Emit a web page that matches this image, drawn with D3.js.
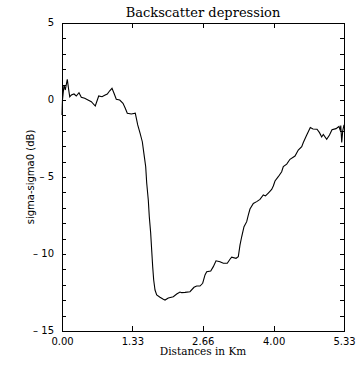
<!DOCTYPE html>
<html>
<head>
<script src="https://d3js.org/d3.v7.min.js"></script>
<style>
  body { margin: 0; background: #fff; }
  text { fill: #000; }
</style>
</head>
<body>
<svg width="362" height="366"></svg>
<script>
// distance along track (km) and backscatter relative to reference (dB)
const distKm = [0.000, 0.009, 0.038, 0.062, 0.100, 0.127, 0.146, 0.176, 0.227, 0.270,
  0.321, 0.365, 0.429, 0.491, 0.554, 0.629, 0.694, 0.756, 0.807, 0.856,
  0.902, 0.945, 0.983, 1.026, 1.091, 1.153, 1.196, 1.234, 1.310, 1.385,
  1.431, 1.474, 1.518, 1.556, 1.582, 1.601, 1.631, 1.650, 1.676, 1.695,
  1.714, 1.733, 1.758, 1.790, 1.852, 1.915, 1.947, 2.009, 2.104, 2.168,
  2.230, 2.262, 2.325, 2.419, 2.495, 2.546, 2.608, 2.659, 2.703, 2.735,
  2.811, 2.860, 2.911, 2.986, 3.049, 3.124, 3.175, 3.207, 3.289, 3.332,
  3.364, 3.396, 3.440, 3.491, 3.521, 3.553, 3.616, 3.680, 3.742, 3.805,
  3.846, 3.899, 3.963, 3.994, 4.026, 4.088, 4.152, 4.183, 4.247, 4.309,
  4.404, 4.466, 4.531, 4.561, 4.621, 4.693, 4.744, 4.820, 4.867, 4.908,
  4.939, 5.003, 5.056, 5.103, 5.179, 5.235, 5.260, 5.269, 5.287, 5.306, 5.330];
const sigmaDb = [-0.97, 0.00, 0.97, 0.65, 1.34, 0.65, 0.21, 0.32, 0.39, 0.26,
  0.47, 0.18, 0.11, 0.00, -0.11, -0.39, 0.26, 0.21, 0.31, 0.39,
  0.60, 0.76, 0.44, 0.05, 0.00, -0.21, -0.54, -0.86, -0.91, -0.86,
  -1.62, -2.14, -2.71, -3.68, -4.33, -5.39, -6.49, -7.58, -8.64, -9.74,
  -10.82, -11.69, -12.34, -12.66, -12.81, -12.94, -12.99, -12.86, -12.77, -12.60,
  -12.47, -12.51, -12.49, -12.45, -12.16, -12.08, -12.08, -11.90, -11.36, -11.15,
  -11.10, -10.82, -10.44, -10.50, -10.60, -10.60, -10.34, -10.21, -10.28, -10.18,
  -9.42, -8.88, -8.23, -7.90, -7.47, -7.08, -6.72, -6.60, -6.45, -6.17,
  -6.23, -6.04, -5.81, -5.58, -5.26, -4.98, -4.66, -4.33, -4.16, -3.85,
  -3.64, -3.25, -3.03, -2.76, -2.31, -1.79, -1.88, -1.90, -2.12, -2.40,
  -2.24, -2.55, -2.27, -1.93, -1.86, -1.72, -1.98, -1.66, -2.76, -2.01, -1.62];

const xTicks = [0, 1.33, 2.66, 4.00, 5.33];
const yMajor = [-15, -10, -5, 0, 5];
const yMinor = [-15, -14, -13, -12, -11, -10, -9, -8, -7, -6, -5, -4, -3, -2, -1, 0, 1, 2, 3, 4, 5];

const svg = d3.select('svg');
const L = 62, R = 344, T = 23, B = 331;

const x = d3.scaleLinear().domain([0, 5.33]).range([L, R]);
const y = d3.scaleLinear().domain([-15, 5]).range([B, T]);

const font = '"DejaVu Sans", sans-serif';

// bottom axis with labels, ticks point inward
const xb = svg.append('g').attr('transform', 'translate(0,' + B + ')')
  .call(d3.axisBottom(x).tickValues(xTicks).tickSizeInner(-5).tickSizeOuter(0)
    .tickPadding(8).tickFormat(d3.format('.2f')));
// top axis, ticks only
svg.append('g').attr('transform', 'translate(0,' + T + ')')
  .call(d3.axisTop(x).tickValues(xTicks).tickSizeInner(-5).tickSizeOuter(0).tickFormat(''));

// left axis: minor ticks every 1 dB, labels every 5
const yl = svg.append('g').attr('transform', 'translate(' + L + ',0)')
  .call(d3.axisLeft(y).tickValues(yMinor).tickSizeInner(-4).tickSizeOuter(0)
    .tickPadding(8).tickFormat(d => yMajor.includes(d) ? (d < 0 ? '\u2013 ' + (-d) : d) : ''));
svg.append('g').attr('transform', 'translate(' + R + ',0)')
  .call(d3.axisRight(y).tickValues(yMinor).tickSizeInner(-4).tickSizeOuter(0).tickFormat(''));

svg.selectAll('.domain').remove();
svg.selectAll('.tick line').attr('stroke', '#000').attr('shape-rendering', 'crispEdges');
svg.selectAll('.tick text').attr('font-family', font).attr('font-size', 10).attr('fill', '#000');
yl.selectAll('.tick text').attr('dy', '0.22em');
xb.selectAll('.tick text').attr('dy', '0.55em');

// plot frame
svg.append('rect')
  .attr('x', L).attr('y', T).attr('width', R - L).attr('height', B - T)
  .attr('fill', 'none').attr('stroke', '#000').attr('stroke-width', 1)
  .attr('shape-rendering', 'crispEdges');

const line = d3.line().x(d => x(d[0])).y(d => y(d[1]));
svg.append('path')
  .datum(distKm.map((d, i) => [d, sigmaDb[i]]))
  .attr('d', line)
  .attr('fill', 'none').attr('stroke', '#000').attr('stroke-width', 1.1);

svg.append('text')
  .attr('x', (L + R) / 2).attr('y', 17)
  .attr('text-anchor', 'middle')
  .attr('font-family', '"DejaVu Serif", serif').attr('font-size', 13)
  .text('Backscatter depression');

svg.append('text')
  .attr('x', (L + R) / 2).attr('y', 355)
  .attr('text-anchor', 'middle')
  .attr('font-family', '"DejaVu Serif", serif').attr('font-size', 10.5)
  .text('Distances in Km');

svg.append('text')
  .attr('transform', 'translate(34,' + ((T + B) / 2) + ') rotate(-90)')
  .attr('text-anchor', 'middle')
  .attr('font-family', font).attr('font-size', 10)
  .text('sigma-sigma0 (dB)');
</script>
</body>
</html>
